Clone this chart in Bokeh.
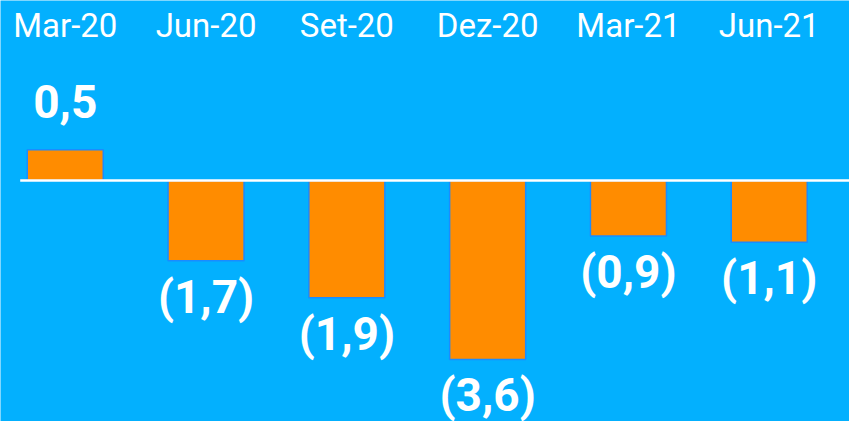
from bokeh.plotting import figure
from bokeh.models import ColumnDataSource
from bokeh.core.properties import value
from bokeh.embed import file_html
from bokeh.resources import INLINE

# Data
categories = ["Mar-20", "Jun-20", "Set-20", "Dez-20", "Mar-21", "Jun-21"]
bar_values = [0.5, -1.3, -1.9, -2.9, -0.9, -1.0]
value_labels = ["0,5", "(1,7)", "(1,9)", "(3,6)", "(0,9)", "(1,1)"]

BG = "#03B0FE"
ORANGE = "#FF8C00"

W, H = 849, 421
p = figure(width=W, height=H, output_backend="svg", toolbar_location=None,
           x_range=(-0.46, 5.57), y_range=(-3.906, 2.917),
           min_border=0, outline_line_color=None)
p.background_fill_color = BG
p.border_fill_color = BG
p.xaxis.visible = False
p.yaxis.visible = False
p.xgrid.visible = False
p.ygrid.visible = False

idx = list(range(len(categories)))
src = ColumnDataSource(dict(
    x=idx, top=[max(v, 0) for v in bar_values], bottom=[min(v, 0) for v in bar_values],
    cat=categories, lab=value_labels, v=bar_values,
    cat_y=[2.917] * len(idx),
))

p.vbar(x="x", top="top", bottom="bottom", width=0.54, source=src,
       fill_color=ORANGE, line_color="#1A8CFF", line_width=1.5)

# baseline
p.segment(x0=-0.32, x1=5.7, y0=0, y1=0, line_color="white", line_width=2.5)

# category labels at top
p.text(x="x", y="cat_y", text="cat", source=src, text_align="center",
       text_baseline="middle", y_offset=25, text_color="white",
       text_font=value("Roboto"), text_font_size="33px")

# value labels
pos = ColumnDataSource(dict(x=[i for i in idx if bar_values[i] >= 0],
                            y=[bar_values[i] for i in idx if bar_values[i] >= 0],
                            t=[value_labels[i] for i in idx if bar_values[i] >= 0]))
neg = ColumnDataSource(dict(x=[i for i in idx if bar_values[i] < 0],
                            y=[bar_values[i] for i in idx if bar_values[i] < 0],
                            t=[value_labels[i] for i in idx if bar_values[i] < 0]))
p.text(x="x", y="y", text="t", source=pos, text_align="center", text_baseline="middle",
       y_offset=-48, text_color="white", text_font=value("Roboto"),
       text_font_style="bold", text_font_size="46px")
p.text(x="x", y="y", text="t", source=neg, text_align="center", text_baseline="middle",
       y_offset=36, text_color="white", text_font=value("Roboto"),
       text_font_style="bold", text_font_size="46px")

open("out.html", "w").write(file_html(p, INLINE))
